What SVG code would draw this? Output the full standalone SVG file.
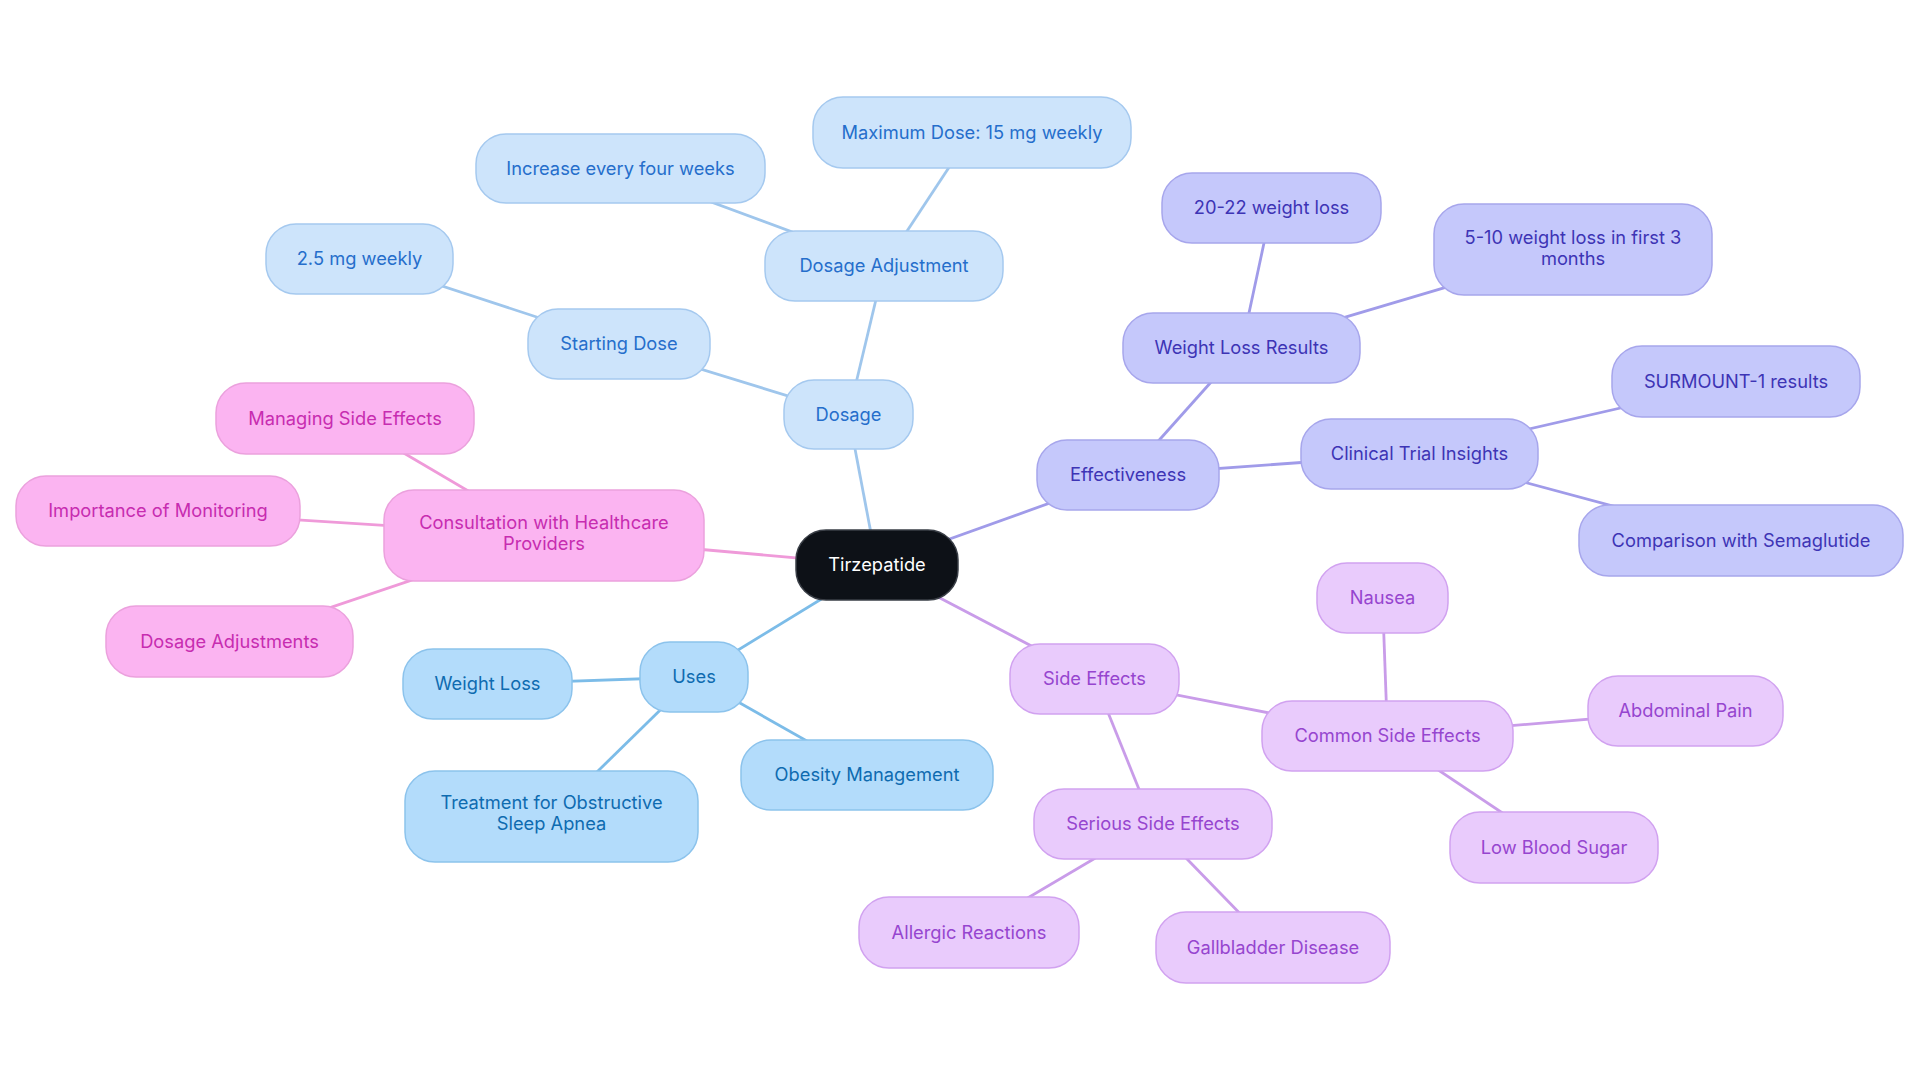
<svg xmlns="http://www.w3.org/2000/svg" width="1920" height="1083" viewBox="0 0 1920 1083">
<style>
text{font-family:Inter,"Noto Sans","Liberation Sans",sans-serif;font-size:18.3px;text-anchor:middle}
.n rect{stroke-width:1.5}
.root rect{fill:#0d1117;stroke:#3a3f47}
.root text{fill:#ffffff}
.dos rect{fill:#cde4fb;stroke:#a5c9ef}
.dos text{fill:#256ecb}
.use rect{fill:#b3dcfb;stroke:#8cc3ec}
.use text{fill:#0e6bb0}
.eff rect{fill:#c5c8fb;stroke:#a7a6ec}
.eff text{fill:#3d34b5}
.sid rect{fill:#e9cbfc;stroke:#d1a2f0}
.sid text{fill:#9645cf}
.con rect{fill:#fbb4f1;stroke:#eba1dd}
.con text{fill:#c72cb0}
#edges line{stroke-width:2.8;fill:none}
.e-dos{stroke:#9fc6ec}
.e-use{stroke:#7cbce8}
.e-eff{stroke:#a09be9}
.e-sid{stroke:#c99ce9}
.e-con{stroke:#ef9ad9}
</style>
<rect width="1920" height="1083" fill="#ffffff"/>
<g id="edges">
<line class="e-dos" x1="877" y1="565" x2="848.5" y2="414.5"/>
<line class="e-dos" x1="848.5" y1="414.5" x2="619" y2="344"/>
<line class="e-dos" x1="619" y1="344" x2="359.5" y2="259"/>
<line class="e-dos" x1="848.5" y1="414.5" x2="884" y2="266"/>
<line class="e-dos" x1="884" y1="266" x2="620.5" y2="168.5"/>
<line class="e-dos" x1="884" y1="266" x2="972" y2="132.5"/>
<line class="e-eff" x1="877" y1="565" x2="1128" y2="475"/>
<line class="e-eff" x1="1128" y1="475" x2="1241.5" y2="348"/>
<line class="e-eff" x1="1241.5" y1="348" x2="1271.5" y2="208"/>
<line class="e-eff" x1="1241.5" y1="348" x2="1573" y2="249.5"/>
<line class="e-eff" x1="1128" y1="475" x2="1419.5" y2="454"/>
<line class="e-eff" x1="1419.5" y1="454" x2="1736" y2="381.5"/>
<line class="e-eff" x1="1419.5" y1="454" x2="1741" y2="540.5"/>
<line class="e-sid" x1="877" y1="565" x2="1094.5" y2="679"/>
<line class="e-sid" x1="1094.5" y1="679" x2="1387.5" y2="736"/>
<line class="e-sid" x1="1387.5" y1="736" x2="1382.5" y2="598"/>
<line class="e-sid" x1="1387.5" y1="736" x2="1685.5" y2="711"/>
<line class="e-sid" x1="1387.5" y1="736" x2="1554" y2="847.5"/>
<line class="e-sid" x1="1094.5" y1="679" x2="1153" y2="824"/>
<line class="e-sid" x1="1153" y1="824" x2="969" y2="932.5"/>
<line class="e-sid" x1="1153" y1="824" x2="1273" y2="947.5"/>
<line class="e-use" x1="877" y1="565" x2="694" y2="677"/>
<line class="e-use" x1="694" y1="677" x2="487.5" y2="684"/>
<line class="e-use" x1="694" y1="677" x2="867" y2="775"/>
<line class="e-use" x1="694" y1="677" x2="551.5" y2="816.5"/>
<line class="e-con" x1="877" y1="565" x2="544" y2="535.5"/>
<line class="e-con" x1="544" y1="535.5" x2="345" y2="418.5"/>
<line class="e-con" x1="544" y1="535.5" x2="158" y2="511"/>
<line class="e-con" x1="544" y1="535.5" x2="229.5" y2="641.5"/>
</g>
<g id="n-tirzepatide" class="n root"><rect x="796" y="530" width="162" height="70" rx="30"/><text x="877" y="571">Tirzepatide</text></g>
<g id="n-dosage" class="n dos"><rect x="784" y="380" width="129" height="69" rx="30"/><text x="848.5" y="420.5">Dosage</text></g>
<g id="n-starting-dose" class="n dos"><rect x="528" y="309" width="182" height="70" rx="30"/><text x="619" y="350">Starting Dose</text></g>
<g id="n-2-5mg" class="n dos"><rect x="266" y="224" width="187" height="70" rx="30"/><text x="359.5" y="265">2.5 mg weekly</text></g>
<g id="n-dosage-adjustment" class="n dos"><rect x="765" y="231" width="238" height="70" rx="30"/><text x="884" y="272">Dosage Adjustment</text></g>
<g id="n-increase" class="n dos"><rect x="476" y="134" width="289" height="69" rx="30"/><text x="620.5" y="174.5">Increase every four weeks</text></g>
<g id="n-maximum" class="n dos"><rect x="813" y="97" width="318" height="71" rx="30"/><text x="972" y="138.5">Maximum Dose: 15 mg weekly</text></g>
<g id="n-effectiveness" class="n eff"><rect x="1037" y="440" width="182" height="70" rx="30"/><text x="1128" y="481">Effectiveness</text></g>
<g id="n-weight-loss-results" class="n eff"><rect x="1123" y="313" width="237" height="70" rx="30"/><text x="1241.5" y="354">Weight Loss Results</text></g>
<g id="n-20-22" class="n eff"><rect x="1162" y="173" width="219" height="70" rx="30"/><text x="1271.5" y="214">20-22 weight loss</text></g>
<g id="n-5-10" class="n eff"><rect x="1434" y="204" width="278" height="91" rx="30"/><text x="1573" y="243.5">5-10 weight loss in first 3</text><text x="1573" y="264.5">months</text></g>
<g id="n-clinical" class="n eff"><rect x="1301" y="419" width="237" height="70" rx="30"/><text x="1419.5" y="460">Clinical Trial Insights</text></g>
<g id="n-surmount" class="n eff"><rect x="1612" y="346" width="248" height="71" rx="30"/><text x="1736" y="387.5">SURMOUNT-1 results</text></g>
<g id="n-comparison" class="n eff"><rect x="1579" y="505" width="324" height="71" rx="30"/><text x="1741" y="546.5">Comparison with Semaglutide</text></g>
<g id="n-side-effects" class="n sid"><rect x="1010" y="644" width="169" height="70" rx="30"/><text x="1094.5" y="685">Side Effects</text></g>
<g id="n-common" class="n sid"><rect x="1262" y="701" width="251" height="70" rx="30"/><text x="1387.5" y="742">Common Side Effects</text></g>
<g id="n-nausea" class="n sid"><rect x="1317" y="563" width="131" height="70" rx="30"/><text x="1382.5" y="604">Nausea</text></g>
<g id="n-abdominal" class="n sid"><rect x="1588" y="676" width="195" height="70" rx="30"/><text x="1685.5" y="717">Abdominal Pain</text></g>
<g id="n-low-blood-sugar" class="n sid"><rect x="1450" y="812" width="208" height="71" rx="30"/><text x="1554" y="853.5">Low Blood Sugar</text></g>
<g id="n-serious" class="n sid"><rect x="1034" y="789" width="238" height="70" rx="30"/><text x="1153" y="830">Serious Side Effects</text></g>
<g id="n-allergic" class="n sid"><rect x="859" y="897" width="220" height="71" rx="30"/><text x="969" y="938.5">Allergic Reactions</text></g>
<g id="n-gallbladder" class="n sid"><rect x="1156" y="912" width="234" height="71" rx="30"/><text x="1273" y="953.5">Gallbladder Disease</text></g>
<g id="n-uses" class="n use"><rect x="640" y="642" width="108" height="70" rx="30"/><text x="694" y="683">Uses</text></g>
<g id="n-weight-loss" class="n use"><rect x="403" y="649" width="169" height="70" rx="30"/><text x="487.5" y="690">Weight Loss</text></g>
<g id="n-obesity" class="n use"><rect x="741" y="740" width="252" height="70" rx="30"/><text x="867" y="781">Obesity Management</text></g>
<g id="n-treatment" class="n use"><rect x="405" y="771" width="293" height="91" rx="30"/><text x="551.5" y="809">Treatment for Obstructive</text><text x="551.5" y="830">Sleep Apnea</text></g>
<g id="n-consultation" class="n con"><rect x="384" y="490" width="320" height="91" rx="30"/><text x="544" y="529">Consultation with Healthcare</text><text x="544" y="550">Providers</text></g>
<g id="n-managing" class="n con"><rect x="216" y="383" width="258" height="71" rx="30"/><text x="345" y="424.5">Managing Side Effects</text></g>
<g id="n-importance" class="n con"><rect x="16" y="476" width="284" height="70" rx="30"/><text x="158" y="517">Importance of Monitoring</text></g>
<g id="n-dosage-adjustments" class="n con"><rect x="106" y="606" width="247" height="71" rx="30"/><text x="229.5" y="647.5">Dosage Adjustments</text></g>
</svg>
